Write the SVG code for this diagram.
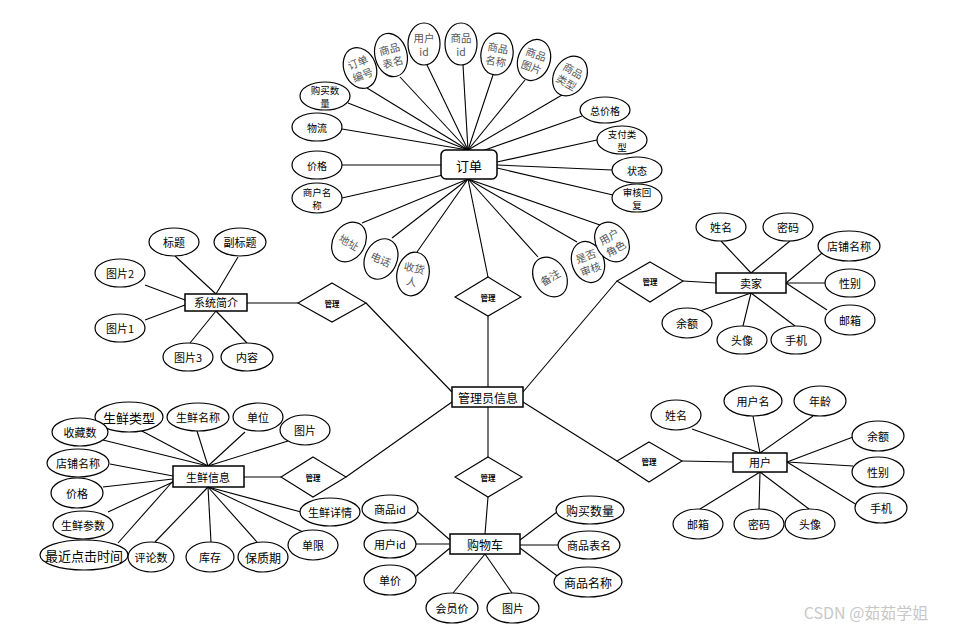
<svg xmlns="http://www.w3.org/2000/svg" width="959" height="630" viewBox="0 0 959 630">
<style>
.c line{stroke:#000;stroke-width:1.1}
ellipse{fill:#fff;stroke:#000;stroke-width:1.2}
rect{fill:#fff;stroke:#000;stroke-width:1.5}
polygon{fill:#fff;stroke:#000;stroke-width:1.1}
text{font-family:"Noto Sans CJK SC","Liberation Sans",sans-serif;font-size:11px;fill:#000;text-anchor:middle;dominant-baseline:central}
.g{fill:#555;font-size:10.5px}
.d{font-size:7.5px;font-weight:bold}
.b{font-size:13px}
.s{font-size:10px}
.t{font-size:9.5px}
</style>
<rect x="0" y="0" width="959" height="630" style="fill:#fff;stroke:none"/>
<g id="connectors" class="c">
<line x1="367" y1="88" x2="468" y2="150"/>
<line x1="400" y1="77" x2="468" y2="150"/>
<line x1="427" y1="65" x2="468" y2="150"/>
<line x1="463" y1="65" x2="468" y2="150"/>
<line x1="493" y1="75" x2="468" y2="150"/>
<line x1="525" y1="80" x2="468" y2="150"/>
<line x1="562" y1="95" x2="468" y2="150"/>
<line x1="348" y1="103" x2="468" y2="150"/>
<line x1="342" y1="129" x2="468" y2="150"/>
<line x1="342" y1="165" x2="441" y2="165"/>
<line x1="342" y1="198" x2="443" y2="175"/>
<line x1="582" y1="116" x2="482" y2="151"/>
<line x1="597" y1="140" x2="497" y2="162"/>
<line x1="612" y1="170" x2="497" y2="165"/>
<line x1="613" y1="195" x2="497" y2="168"/>
<line x1="362" y1="223" x2="468" y2="179"/>
<line x1="392" y1="238" x2="468" y2="179"/>
<line x1="417" y1="252" x2="468" y2="179"/>
<line x1="488" y1="277" x2="468" y2="179"/>
<line x1="538" y1="257" x2="468" y2="179"/>
<line x1="577" y1="242" x2="468" y2="179"/>
<line x1="600" y1="225" x2="468" y2="179"/>
<line x1="488" y1="316" x2="488" y2="387"/>
<line x1="366" y1="303" x2="452" y2="392"/>
<line x1="346" y1="477" x2="452" y2="402"/>
<line x1="617" y1="281" x2="523" y2="392"/>
<line x1="617" y1="461" x2="523" y2="402"/>
<line x1="488" y1="407" x2="488" y2="457"/>
<line x1="488" y1="497" x2="485" y2="534"/>
<line x1="298" y1="303" x2="247" y2="303"/>
<line x1="175" y1="256" x2="216" y2="294"/>
<line x1="238" y1="257" x2="216" y2="294"/>
<line x1="145" y1="285" x2="185" y2="300"/>
<line x1="145" y1="320" x2="185" y2="305"/>
<line x1="190" y1="343" x2="216" y2="311"/>
<line x1="247" y1="343" x2="216" y2="311"/>
<line x1="244" y1="477" x2="281" y2="477"/>
<line x1="140" y1="430" x2="208" y2="466"/>
<line x1="197" y1="431" x2="208" y2="466"/>
<line x1="245" y1="432" x2="208" y2="466"/>
<line x1="288" y1="441" x2="208" y2="466"/>
<line x1="103" y1="440" x2="208" y2="466"/>
<line x1="110" y1="464" x2="173" y2="476"/>
<line x1="103" y1="487" x2="173" y2="479"/>
<line x1="108" y1="512" x2="173" y2="482"/>
<line x1="118" y1="543" x2="173" y2="481"/>
<line x1="155" y1="542" x2="208" y2="487"/>
<line x1="211" y1="542" x2="208" y2="487"/>
<line x1="257" y1="542" x2="208" y2="487"/>
<line x1="303" y1="532" x2="208" y2="487"/>
<line x1="301" y1="512" x2="208" y2="487"/>
<line x1="683" y1="281" x2="716" y2="283"/>
<line x1="721" y1="241" x2="751" y2="273"/>
<line x1="790" y1="241" x2="751" y2="273"/>
<line x1="822" y1="253" x2="786" y2="283"/>
<line x1="825" y1="283" x2="786" y2="283"/>
<line x1="827" y1="310" x2="786" y2="283"/>
<line x1="700" y1="311" x2="751" y2="293"/>
<line x1="743" y1="326" x2="751" y2="293"/>
<line x1="795" y1="326" x2="751" y2="293"/>
<line x1="682" y1="461" x2="733" y2="462"/>
<line x1="692" y1="429" x2="760" y2="453"/>
<line x1="753" y1="416" x2="760" y2="453"/>
<line x1="813" y1="416" x2="760" y2="453"/>
<line x1="853" y1="437" x2="787" y2="462"/>
<line x1="853" y1="466" x2="787" y2="462"/>
<line x1="857" y1="505" x2="787" y2="462"/>
<line x1="700" y1="509" x2="760" y2="472"/>
<line x1="759" y1="509" x2="760" y2="472"/>
<line x1="809" y1="509" x2="760" y2="472"/>
<line x1="418" y1="512" x2="450" y2="540"/>
<line x1="415" y1="544" x2="450" y2="544"/>
<line x1="415" y1="577" x2="450" y2="548"/>
<line x1="453" y1="593" x2="485" y2="554"/>
<line x1="512" y1="593" x2="485" y2="554"/>
<line x1="557" y1="512" x2="520" y2="540"/>
<line x1="558" y1="545" x2="520" y2="545"/>
<line x1="560" y1="578" x2="520" y2="548"/>
</g>

<g id="order">
<rect x="441" y="150" width="56" height="29" rx="5"/>
<text x="469" y="165" class="b">订单</text>
</g>
<g id="order-attrs">
<g transform="translate(360,68) rotate(-22)"><ellipse rx="16" ry="21"/><text class="g" y="-6.5">订单</text><text class="g" y="7">编号</text></g>
<g transform="translate(391,55) rotate(-15)"><ellipse rx="16" ry="22"/><text class="g" y="-6.5">商品</text><text class="g" y="7">表名</text></g>
<g transform="translate(424,44)"><ellipse rx="16" ry="21"/><text class="g" y="-6.5">用户</text><text class="g" y="7">id</text></g>
<g transform="translate(461,44)"><ellipse rx="16" ry="21"/><text class="g" y="-6.5">商品</text><text class="g" y="7">id</text></g>
<g transform="translate(497,54) rotate(10)"><ellipse rx="16" ry="21"/><text class="g" y="-6.5">商品</text><text class="g" y="7">名称</text></g>
<g transform="translate(534,60) rotate(20)"><ellipse rx="16" ry="21"/><text class="g" y="-6.5">商品</text><text class="g" y="7">图片</text></g>
<g transform="translate(570,76) rotate(30)"><ellipse rx="16" ry="21"/><text class="g" y="-6.5">商品</text><text class="g" y="7">类型</text></g>
<g transform="translate(325,96)"><ellipse rx="25" ry="14"/><text class="t" y="-6.5">购买数</text><text class="t" y="6.5">量</text></g>
<g transform="translate(317,127)"><ellipse rx="25" ry="14"/><text class="s">物流</text></g>
<g transform="translate(317,165)"><ellipse rx="25" ry="14"/><text class="s">价格</text></g>
<g transform="translate(317,198)"><ellipse rx="25" ry="15"/><text class="t" y="-6.5">商户名</text><text class="t" y="6.5">称</text></g>
<g transform="translate(605,110)"><ellipse rx="25" ry="13"/><text class="s">总价格</text></g>
<g transform="translate(622,140)"><ellipse rx="25" ry="14"/><text class="t" y="-6.5">支付类</text><text class="t" y="6.5">型</text></g>
<g transform="translate(637,170)"><ellipse rx="25" ry="13"/><text class="s">状态</text></g>
<g transform="translate(637,198)"><ellipse rx="25" ry="14"/><text class="t" y="-6.5">审核回</text><text class="t" y="6.5">复</text></g>
<g transform="translate(349,242) rotate(30)"><ellipse rx="16" ry="21"/><text class="g">地址</text></g>
<g transform="translate(381,259) rotate(25)"><ellipse rx="16" ry="21"/><text class="g">电话</text></g>
<g transform="translate(413,274) rotate(12)"><ellipse rx="16" ry="22"/><text class="g" y="-6.5">收货</text><text class="g" y="7">人</text></g>
<g transform="translate(550,277) rotate(-30)"><ellipse rx="16" ry="21"/><text class="g">备注</text></g>
<g transform="translate(588,262) rotate(-20)"><ellipse rx="16" ry="21"/><text class="g" y="-6.5">是否</text><text class="g" y="7">审核</text></g>
<g transform="translate(612,242) rotate(-30)"><ellipse rx="16" ry="21"/><text class="g" y="-6.5">用户</text><text class="g" y="7">角色</text></g>
</g>

<g id="rel-order"><polygon points="488,277 521,297 488,316 455,297"/><text class="d" x="488" y="297">管理</text></g>
<g id="admin"><rect x="452" y="387" width="71" height="20"/><text x="488" y="397" class="b" style="font-size:12px">管理员信息</text></g>
<g id="rel-cart"><polygon points="488,457 522,477 488,497 455,477"/><text class="d" x="488" y="477">管理</text></g>

<g id="intro">
<rect x="185" y="294" width="62" height="17"/><text x="216" y="302">系统简介</text>
<ellipse cx="174" cy="242" rx="25" ry="14"/><text x="174" y="242">标题</text>
<ellipse cx="240" cy="242" rx="26" ry="14"/><text x="240" y="242">副标题</text>
<ellipse cx="120" cy="273" rx="25" ry="14"/><text x="120" y="273">图片2</text>
<ellipse cx="120" cy="328" rx="25" ry="14"/><text x="120" y="328">图片1</text>
<ellipse cx="188" cy="357" rx="25" ry="14"/><text x="188" y="357">图片3</text>
<ellipse cx="247" cy="357" rx="26" ry="14"/><text x="247" y="357">内容</text>
</g>
<g id="rel-intro"><polygon points="332,283 366,303 332,322 298,303"/><text class="d" x="332" y="303">管理</text></g>

<g id="fresh">
<rect x="173" y="466" width="71" height="21"/><text x="208" y="477">生鲜信息</text>
<ellipse cx="129" cy="417" rx="34" ry="15"/><text x="129" y="417" style="font-size:13px">生鲜类型</text>
<ellipse cx="198" cy="417" rx="31" ry="14"/><text x="198" y="417">生鲜名称</text>
<ellipse cx="258" cy="417" rx="25" ry="14"/><text x="258" y="417">单位</text>
<ellipse cx="305" cy="430" rx="25" ry="15"/><text x="305" y="430">图片</text>
<ellipse cx="80" cy="432" rx="28" ry="14"/><text x="80" y="432">收藏数</text>
<ellipse cx="78" cy="463" rx="31" ry="14"/><text x="78" y="463">店铺名称</text>
<ellipse cx="77" cy="493" rx="26" ry="15"/><text x="77" y="493">价格</text>
<ellipse cx="83" cy="525" rx="30" ry="14"/><text x="83" y="525">生鲜参数</text>
<ellipse cx="84" cy="555" rx="44" ry="15"/><text x="84" y="555" style="font-size:13px">最近点击时间</text>
<ellipse cx="151" cy="557" rx="23" ry="15"/><text x="151" y="557">评论数</text>
<ellipse cx="210" cy="557" rx="24" ry="15"/><text x="210" y="557">库存</text>
<ellipse cx="263" cy="557" rx="25" ry="15"/><text x="263" y="557" style="font-size:12px">保质期</text>
<ellipse cx="313" cy="545" rx="25" ry="15"/><text x="313" y="545">单限</text>
<ellipse cx="330" cy="512" rx="30" ry="14"/><text x="330" y="512">生鲜详情</text>
</g>
<g id="rel-fresh"><polygon points="313,457 346,477 313,497 281,477"/><text class="d" x="313" y="477">管理</text></g>

<g id="seller">
<rect x="716" y="273" width="70" height="20"/><text x="751" y="283">卖家</text>
<ellipse cx="721" cy="227" rx="25" ry="14"/><text x="721" y="227">姓名</text>
<ellipse cx="788" cy="227" rx="25" ry="14"/><text x="788" y="227">密码</text>
<ellipse cx="849" cy="246" rx="31" ry="15"/><text x="849" y="246">店铺名称</text>
<ellipse cx="850" cy="283" rx="25" ry="14"/><text x="850" y="283">性别</text>
<ellipse cx="850" cy="320" rx="25" ry="15"/><text x="850" y="320">邮箱</text>
<ellipse cx="687" cy="323" rx="25" ry="15"/><text x="687" y="323">余额</text>
<ellipse cx="742" cy="340" rx="25" ry="14"/><text x="742" y="340">头像</text>
<ellipse cx="796" cy="340" rx="25" ry="14"/><text x="796" y="340">手机</text>
</g>
<g id="rel-seller"><polygon points="650,262 683,281 650,302 617,281"/><text class="d" x="650" y="281">管理</text></g>

<g id="user">
<rect x="733" y="453" width="54" height="19"/><text x="760" y="462">用户</text>
<ellipse cx="676" cy="415" rx="25" ry="15"/><text x="676" y="415">姓名</text>
<ellipse cx="753" cy="401" rx="29" ry="15"/><text x="753" y="401">用户名</text>
<ellipse cx="820" cy="401" rx="26" ry="15"/><text x="820" y="401">年龄</text>
<ellipse cx="878" cy="436" rx="26" ry="15"/><text x="878" y="436">余额</text>
<ellipse cx="878" cy="472" rx="26" ry="15"/><text x="878" y="472">性别</text>
<ellipse cx="881" cy="508" rx="26" ry="15"/><text x="881" y="508">手机</text>
<ellipse cx="698" cy="524" rx="25" ry="15"/><text x="698" y="524">邮箱</text>
<ellipse cx="759" cy="524" rx="25" ry="15"/><text x="759" y="524">密码</text>
<ellipse cx="810" cy="524" rx="25" ry="15"/><text x="810" y="524">头像</text>
</g>
<g id="rel-user"><polygon points="649,442 682,461 649,482 617,461"/><text class="d" x="649" y="461">管理</text></g>

<g id="cart">
<rect x="450" y="534" width="70" height="20"/><text x="485" y="544" style="font-size:12px">购物车</text>
<ellipse cx="390" cy="509" rx="28" ry="14"/><text x="390" y="509">商品id</text>
<ellipse cx="390" cy="544" rx="26" ry="14"/><text x="390" y="544">用户id</text>
<ellipse cx="390" cy="580" rx="26" ry="15"/><text x="390" y="580">单价</text>
<ellipse cx="452" cy="608" rx="26" ry="15"/><text x="452" y="608">会员价</text>
<ellipse cx="513" cy="608" rx="26" ry="15"/><text x="513" y="608">图片</text>
<ellipse cx="590" cy="510" rx="34" ry="14"/><text x="590" y="510" style="font-size:12px">购买数量</text>
<ellipse cx="589" cy="545" rx="31" ry="14"/><text x="589" y="545">商品表名</text>
<ellipse cx="588" cy="582" rx="34" ry="15"/><text x="588" y="582" style="font-size:12px">商品名称</text>
</g>
<text x="866" y="612" style="font-size:16px;fill:#c8c8c8">CSDN @茹茹学姐</text>
</svg>
